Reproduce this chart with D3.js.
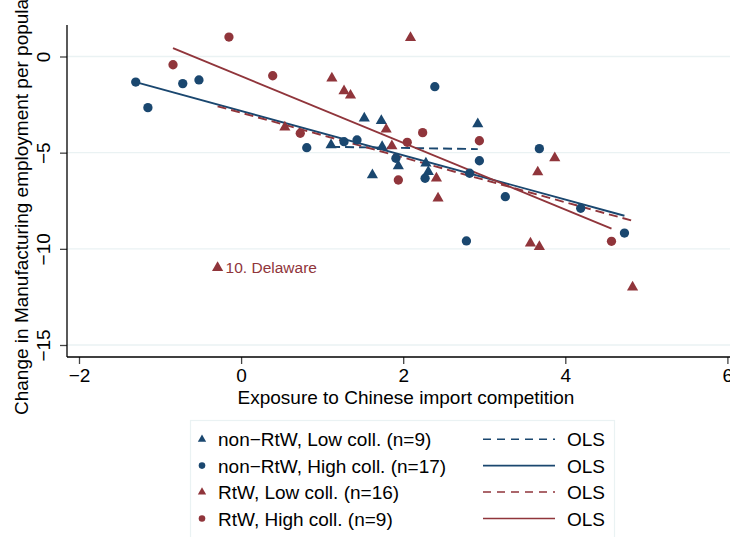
<!DOCTYPE html>
<html>
<head>
<meta charset="utf-8">
<script src="https://cdn.jsdelivr.net/npm/d3@7"></script>
<style>
  html, body { margin: 0; padding: 0; background: #fff; overflow: hidden; }
  svg { display: block; font-family: "Liberation Sans", Arial, Helvetica, sans-serif; }
</style>
</head>
<body>
<svg id="chart" width="730" height="537"></svg>
<script>
// State-level observations: exposure to Chinese import competition (x)
// and change in manufacturing employment per population (y).
const nonRtwLowX  = [1.52, 1.73, 1.11, 1.74, 1.62, 1.94, 2.28, 2.31, 2.92];
const nonRtwLowY  = [-3.21, -3.34, -4.60, -4.69, -6.16, -5.69, -5.55, -5.99, -3.51];

const nonRtwHighX = [-1.30, -1.15, -0.72, -0.52, 0.81, 1.27, 1.43, 2.39, 1.91, 2.27, 2.82, 2.94, 3.68, 3.26, 2.78, 4.19, 4.73];
const nonRtwHighY = [-1.33, -2.66, -1.41, -1.22, -4.74, -4.43, -4.34, -1.57, -5.29, -6.33, -6.07, -5.42, -4.79, -7.29, -9.59, -7.89, -9.18];

const rtwLowX     = [2.09, 1.12, 1.27, 1.35, 0.54, 1.79, 1.86, 2.41, 2.43, 3.87, 3.66, 3.57, 3.68, -0.29, 4.83];
const rtwLowY     = [0.98, -1.13, -1.79, -2.02, -3.68, -3.79, -4.65, -6.33, -7.37, -5.28, -6.01, -9.71, -9.89, -10.98, -12.00];
const rtwLowNames = ["", "", "", "", "", "", "", "", "", "", "", "", "", "10. Delaware", ""];

const rtwHighX    = [-0.84, -0.15, 0.39, 0.73, 2.05, 2.24, 1.94, 2.94, 4.57];
const rtwHighY    = [-0.43, 1.01, -1.00, -3.99, -4.46, -3.96, -6.42, -4.38, -9.61];

const xTicks = [-2, 0, 2, 4, 6];
const yTicks = [0, -5, -10, -15];

const groupLabels = [
  "non\u2212RtW, Low coll. (n=9)",
  "non\u2212RtW, High coll. (n=17)",
  "RtW, Low coll. (n=16)",
  "RtW, High coll. (n=9)"
];
const fitLabel = "OLS";
const xTitle = "Exposure to Chinese import competition";
const yTitle = "Change in Manufacturing employment per population";

const navy = "#1a476f";
const maroon = "#90353b";
const gridColor = "#eaf2f3";
const fontSize = 19;

const groups = [
  { xs: nonRtwLowX,  ys: nonRtwLowY,  shape: "triangle", color: navy,   dash: "9,5" },
  { xs: nonRtwHighX, ys: nonRtwHighY, shape: "circle",   color: navy,   dash: null },
  { xs: rtwLowX,     ys: rtwLowY,     shape: "triangle", color: maroon, dash: "9,5", names: rtwLowNames },
  { xs: rtwHighX,    ys: rtwHighY,    shape: "circle",   color: maroon, dash: null }
];

const svg = d3.select("#chart");

// Plot region and scales
const plotLeft = 67, plotRight = 745, plotTop = 25, plotBottom = 357;
const x = d3.scaleLinear().domain([-2, 6]).range([79, 727.4]);
const y = d3.scaleLinear().domain([0, -15]).range([56.5, 345]);

// Horizontal gridlines
svg.append("g").selectAll("line").data(yTicks).join("line")
  .attr("x1", plotLeft).attr("x2", plotRight)
  .attr("y1", d => y(d)).attr("y2", d => y(d))
  .attr("stroke", gridColor).attr("stroke-width", 1.4);

// OLS fit for each group over its own x range
function ols(xs, ys) {
  const mx = d3.mean(xs), my = d3.mean(ys);
  let sxy = 0, sxx = 0;
  xs.forEach((xv, i) => { sxy += (xv - mx) * (ys[i] - my); sxx += (xv - mx) * (xv - mx); });
  const b = sxy / sxx, a = my - b * mx;
  const [x0, x1] = d3.extent(xs);
  return [[x0, a + b * x0], [x1, a + b * x1]];
}

const line = d3.line().x(d => x(d[0])).y(d => y(d[1]));
const fits = svg.append("g");
groups.forEach(g => {
  fits.append("path")
    .attr("d", line(ols(g.xs, g.ys)))
    .attr("fill", "none")
    .attr("stroke", g.color)
    .attr("stroke-width", 1.9)
    .attr("stroke-dasharray", g.dash);
});

// Markers
const triPath = d3.symbol().type(d3.symbolTriangle).size(54)();
const circPath = d3.symbol().type(d3.symbolCircle).size(68)();
const marks = svg.append("g");
groups.forEach(g => {
  const pts = g.xs.map((xv, i) => ({ x: xv, y: g.ys[i], name: g.names ? g.names[i] : "" }));
  marks.append("g").selectAll("path").data(pts).join("path")
    .attr("d", g.shape === "triangle" ? triPath : circPath)
    .attr("transform", d => `translate(${x(d.x)},${y(d.y)})`)
    .attr("fill", g.color);
  marks.append("g").selectAll("text").data(pts.filter(d => d.name)).join("text")
    .attr("x", d => x(d.x) + 8)
    .attr("y", d => y(d.y) + 5.5)
    .attr("fill", g.color)
    .attr("font-size", 15.5)
    .text(d => d.name);
});

// Axes
const xAxis = svg.append("g")
  .attr("transform", `translate(0,${plotBottom})`)
  .call(d3.axisBottom(x).tickValues(xTicks).tickSize(7).tickPadding(5).tickFormat(d3.format("d")));
xAxis.select(".domain").remove();
xAxis.selectAll(".tick line").attr("stroke", "#444").attr("stroke-width", 1.3);
xAxis.selectAll(".tick text").attr("font-size", fontSize).attr("fill", "#000")
  .attr("font-family", "Liberation Sans, Arial, sans-serif");

const yAxis = svg.append("g")
  .attr("transform", `translate(${plotLeft},0)`)
  .call(d3.axisLeft(y).tickValues(yTicks).tickSize(7).tickFormat(d3.format("d")));
yAxis.select(".domain").remove();
yAxis.selectAll(".tick line").attr("stroke", "#444").attr("stroke-width", 1.3);
yAxis.selectAll(".tick text")
  .attr("font-size", fontSize).attr("fill", "#000")
  .attr("font-family", "Liberation Sans, Arial, sans-serif")
  .attr("x", null).attr("dy", null)
  .attr("text-anchor", "middle")
  .attr("transform", "translate(-17,0) rotate(-90)");

svg.append("line")
  .attr("x1", plotLeft).attr("x2", plotRight)
  .attr("y1", plotBottom).attr("y2", plotBottom)
  .attr("stroke", "#000").attr("stroke-width", 1.3);
svg.append("line")
  .attr("x1", plotLeft).attr("x2", plotLeft)
  .attr("y1", plotTop).attr("y2", plotBottom)
  .attr("stroke", "#000").attr("stroke-width", 1.3);

// Axis titles
svg.append("text")
  .attr("x", (plotLeft + plotRight) / 2)
  .attr("y", 404)
  .attr("text-anchor", "middle")
  .attr("font-size", fontSize)
  .text(xTitle);
svg.append("text")
  .attr("transform", "translate(28,415) rotate(-90)")
  .attr("text-anchor", "start")
  .attr("font-size", fontSize)
  .text(yTitle);

// Legend
const legend = svg.append("g");
legend.append("rect")
  .attr("x", 190.5).attr("y", 420.5).attr("width", 424).attr("height", 130)
  .attr("fill", "#fff").attr("stroke", gridColor).attr("stroke-width", 1.2);
const rowY = [439.3, 465.6, 492, 518.5];
groups.forEach((g, i) => {
  const cy = rowY[i];
  legend.append("path")
    .attr("d", g.shape === "triangle"
      ? d3.symbol().type(d3.symbolTriangle).size(30)()
      : d3.symbol().type(d3.symbolCircle).size(34)())
    .attr("transform", `translate(202,${cy})`)
    .attr("fill", g.color);
  legend.append("text")
    .attr("x", 218).attr("y", cy + 7)
    .attr("font-size", fontSize)
    .text(groupLabels[i]);
  legend.append("line")
    .attr("x1", 483).attr("x2", 555)
    .attr("y1", cy).attr("y2", cy)
    .attr("stroke", g.color).attr("stroke-width", 1.6)
    .attr("stroke-dasharray", g.dash ? "8,6" : null);
  legend.append("text")
    .attr("x", 567).attr("y", cy + 7)
    .attr("font-size", fontSize)
    .text(fitLabel);
});
</script>
</body>
</html>
